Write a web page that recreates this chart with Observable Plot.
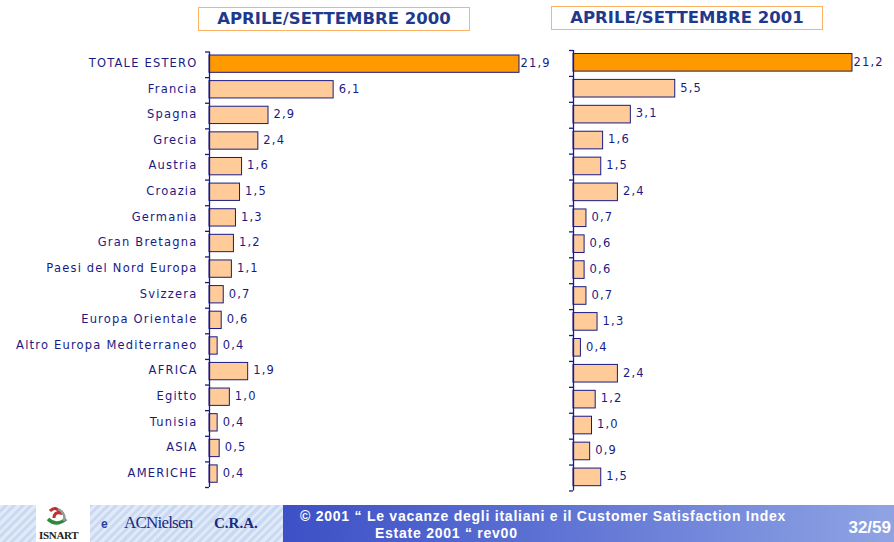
<!DOCTYPE html>
<html><head><meta charset="utf-8">
<script src="https://cdn.jsdelivr.net/npm/d3@7"></script>
<script src="https://cdn.jsdelivr.net/npm/@observablehq/plot@0.6"></script>
<style>
body{margin:0;background:#fff;}
#wrap{position:relative;width:894px;height:542px;overflow:hidden;font-family:"DejaVu Sans",Verdana,sans-serif;background:#fff;}
.title{position:absolute;box-sizing:border-box;border:1.5px solid #FFB366;background:#fff;color:#1F3A8C;font-weight:bold;font-size:16.5px;text-align:center;line-height:21px;height:24px;}
.chart{position:absolute;top:0;}
.chart svg{background:transparent;overflow:visible;}
.chart svg text{letter-spacing:1.2px;}
#footer{position:absolute;left:0;top:505px;width:894px;height:37px;
  background:repeating-linear-gradient(135deg,#dfe9f8 0 3px,#c9d9f2 3px 6px);}
#band{position:absolute;left:283px;top:0;width:611px;height:37px;
  background:linear-gradient(90deg,#3d50c6 0%,#5a6fd2 40%,#8fa3e4 100%);}
#band .l1,#band .l2{position:absolute;color:#fff;font-family:"Liberation Sans",Arial,sans-serif;font-weight:bold;font-size:14px;line-height:14px;letter-spacing:0.75px;white-space:nowrap;}
#band .l1{left:17px;top:4px;}
#band .l2{left:92px;top:21px;}
#band .pg{position:absolute;right:3px;top:13px;color:#fff;font-family:"Liberation Sans",Arial,sans-serif;font-weight:bold;font-size:17px;}
#isnart{position:absolute;left:36px;top:0;width:54px;height:37px;background:#fff;}
#isnart .t{position:absolute;left:3px;bottom:1px;font-family:"Liberation Serif",serif;font-weight:bold;font-size:11px;color:#222;letter-spacing:-0.3px;}
#e{position:absolute;left:101px;top:12px;font-weight:bold;font-size:12px;color:#2a3fa0;font-family:"Liberation Sans",Arial,sans-serif;}
#acn{position:absolute;left:124px;top:8px;font-family:"Liberation Serif",serif;font-size:17px;color:#1a2a80;letter-spacing:-0.8px;}
#cra{position:absolute;left:214px;top:10px;font-family:"Liberation Serif",serif;font-weight:bold;font-size:15px;color:#1a2a80;}
</style>
</head><body>
<div id="wrap">
  <div class="title" id="t0" style="left:198px;top:7px;width:272px;"></div>
  <div class="title" id="t1" style="left:551px;top:6px;width:272px;"></div>
  <div class="chart" id="c0" style="left:0px;"></div>
  <div class="chart" id="c1" style="left:545px;"></div>
  <div id="footer">
    <div id="isnart">
      <svg width="54" height="24" style="position:absolute;left:0;top:0">
        <path d="M14 6 q6 -6 10 2 q-6 -1 -6 5" fill="none" stroke="#c03030" stroke-width="3"/>
        <path d="M12 14 q8 8 18 0" fill="none" stroke="#2e8a3a" stroke-width="3.5"/>
        <path d="M22 4 q8 4 6 12" fill="none" stroke="#999" stroke-width="2.5"/>
      </svg>
      <div class="t">ISNART</div>
    </div>
    <div id="e">e</div>
    <div id="acn">ACNielsen</div>
    <div id="cra">C.R.A.</div>
    <div id="band">
      <div class="l1"></div>
      <div class="l2"></div>
      <div class="pg"></div>
    </div>
  </div>
</div>
<script>
const categories = ["TOTALE ESTERO","Francia","Spagna","Grecia","Austria","Croazia","Germania","Gran Bretagna","Paesi del Nord Europa","Svizzera","Europa Orientale","Altro Europa Mediterraneo","AFRICA","Egitto","Tunisia","ASIA","AMERICHE"];
const values2000 = [21.9,6.1,2.9,2.4,1.6,1.5,1.3,1.2,1.1,0.7,0.6,0.4,1.9,1.0,0.4,0.5,0.4];
const values2001 = [21.2,5.5,3.1,1.6,1.5,2.4,0.7,0.6,0.6,0.7,1.3,0.4,2.4,1.2,1.0,0.9,1.5];
const titles = ["APRILE/SETTEMBRE 2000","APRILE/SETTEMBRE 2001"];
const footerLines = ["© 2001 “ Le vacanze degli italiani e il Customer Satisfaction Index","Estate 2001 “ rev00"];
const pageLabel = "32/59";

document.getElementById("t0").textContent = titles[0];
document.getElementById("t1").textContent = titles[1];
document.querySelector("#band .l1").textContent = footerLines[0];
document.querySelector("#band .l2").textContent = footerLines[1];
document.querySelector("#band .pg").textContent = pageLabel;

const navy = "#1A1A85";
const fmt = v => v.toFixed(1).replace(".", ",");

function chart(values, o) {
  const n = categories.length;
  const data = categories.map((c, i) => ({c, i, v: values[i], total: i === 0}));
  const height = o.top + n * o.band + o.marginBottom;
  const marks = [
    Plot.rectX(data, {
      x1: 0, x2: "v", y1: "i", y2: d => d.i + 1,
      insetTop: 3.5, insetBottom: 4.8,
      fill: d => d.total ? "#FF9900" : "#FFCC99",
      stroke: navy, strokeWidth: 1
    }),
    Plot.ruleX([0], {y1: 0, y2: n, stroke: navy, strokeWidth: 1.3}),
    Plot.axisY({ticks: d3.range(n + 1), tickSize: 4, tickFormat: () => "", label: null, stroke: navy, strokeWidth: 1.3, anchor: "left"}),
    Plot.text(data.filter(d => !d.total), {
      x: "v", y: d => d.i + 0.5, text: d => fmt(d.v),
      textAnchor: "start", dx: 5, dy: -1.5, fill: navy, fontSize: 11.5
    }),
    Plot.text(data.filter(d => d.total), {
      x: "v", y: d => d.i + 0.5, text: d => fmt(d.v),
      textAnchor: "start", dx: 1, dy: -1.5, fill: navy, fontSize: 11.5
    })
  ];
  if (o.labels) {
    marks.push(Plot.text(data, {
      x: 0, y: d => d.i + 0.5, text: "c",
      textAnchor: "end", dx: -12, dy: -1.5, fill: navy, fontSize: 11.5
    }));
  }
  return Plot.plot({
    width: o.width, height,
    marginLeft: o.marginLeft, marginRight: o.width - o.marginLeft - o.plotW,
    marginTop: o.top, marginBottom: o.marginBottom,
    style: {background: "transparent", fontFamily: "DejaVu Sans, Verdana, sans-serif", overflow: "visible"},
    x: {domain: [0, o.xMax], clamp: true, axis: null},
    y: {domain: [0, n], range: [o.top, o.top + n * o.band], axis: null},
    color: {type: "identity"},
    marks
  });
}

document.getElementById("c0").appendChild(chart(values2000, {
  width: 545, marginLeft: 209, plotW: 310, xMax: 310 / 20.35,
  top: 51.5, band: 25.62, marginBottom: 10, labels: true
}));
document.getElementById("c1").appendChild(chart(values2001, {
  width: 349, marginLeft: 28, plotW: 279, xMax: 279 / 18.5,
  top: 50, band: 25.91, marginBottom: 10, labels: false
}));
</script>
</body></html>
